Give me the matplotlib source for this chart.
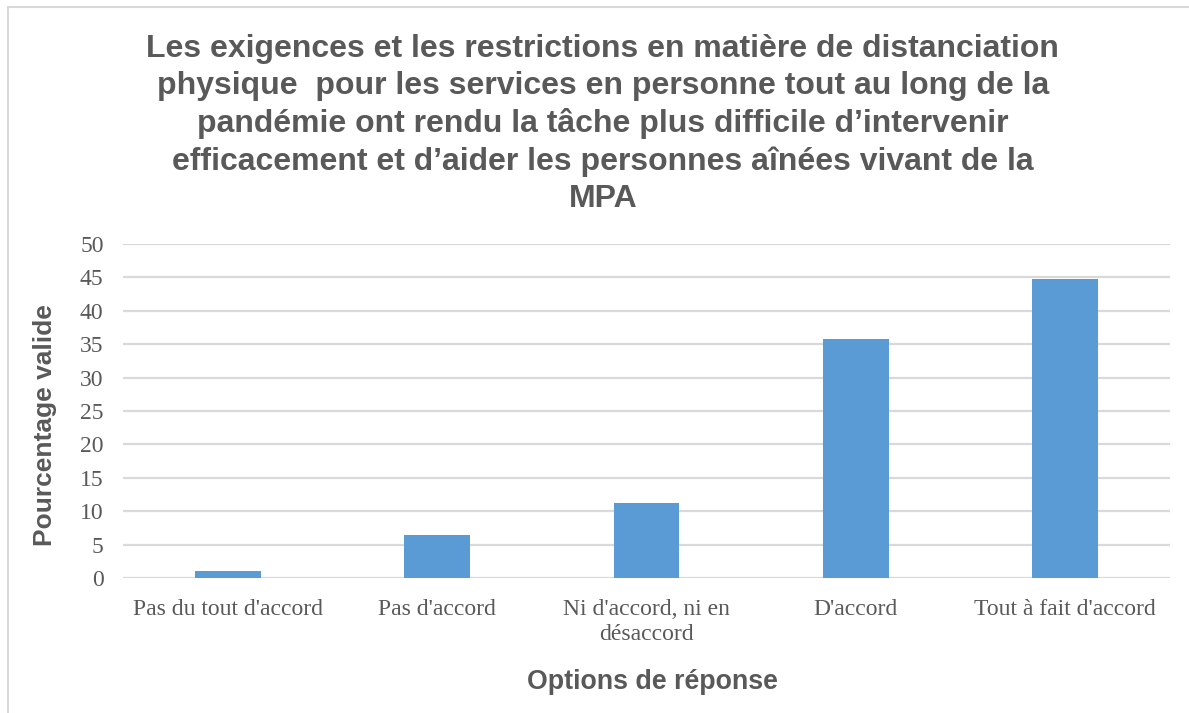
import matplotlib.pyplot as plt
from matplotlib.lines import Line2D

categories = ["Pas du tout d'accord", "Pas d'accord", "Ni d'accord, ni en\ndésaccord",
              "D'accord", "Tout à fait d'accord"]
values = [1.0, 6.5, 11.2, 35.8, 44.8]
yticks = [0, 5, 10, 15, 20, 25, 30, 35, 40, 45, 50]

title = ("Les exigences et les restrictions en matière de distanciation\n"
         "physique  pour les services en personne tout au long de la\n"
         "pandémie ont rendu la tâche plus difficile d’intervenir\n"
         "efficacement et d’aider les personnes aînées vivant de la\n"
         "MPA")

grey = "#595959"

fig = plt.figure(figsize=(11.89, 7.13), dpi=100)
ax = fig.add_axes([0.1035, 0.1893, 0.8805, 0.4685])

ax.bar(range(len(categories)), values, width=0.315, color="#5b9bd5", zorder=3)

ax.set_ylim(0, 50)
ax.set_xlim(-0.5, len(categories) - 0.5)
ax.set_yticks(yticks)
ax.set_xticks(range(len(categories)))
ax.set_xticklabels(categories, family="Liberation Serif", fontsize=17, color=grey,
                   linespacing=1.25)
ax.set_yticklabels([str(t) for t in yticks], family="Liberation Serif", fontsize=17,
                   color=grey)
ax.tick_params(axis="both", length=0)
ax.tick_params(axis="x", pad=15)
ax.tick_params(axis="y", pad=14)
ax.grid(axis="y", color="#d9d9d9", linewidth=1.6, zorder=0)
for s in ax.spines.values():
    s.set_visible(False)

ax.set_ylabel("Pourcentage valide", family="Liberation Sans", fontweight="bold",
              fontsize=19, color=grey, va="center")
ax.yaxis.set_label_coords(-0.0745, 0.458)
fig.text(0.549, 0.043, "Options de réponse", family="Liberation Sans", fontweight="bold",
         fontsize=19.3, color=grey, ha="center", va="center")

fig.text(0.507, 0.826, title, family="Liberation Sans", fontweight="bold", fontsize=23,
         color=grey, ha="center", va="center", linespacing=1.3)

# chart area border
fig.add_artist(Line2D([0.0065, 0.0065], [0, 0.99], transform=fig.transFigure,
                      color="#d9d9d9", linewidth=1.5))
fig.add_artist(Line2D([0.0065, 1], [0.99, 0.99], transform=fig.transFigure,
                      color="#d9d9d9", linewidth=1.5))

fig.savefig("out.png", dpi=100)
